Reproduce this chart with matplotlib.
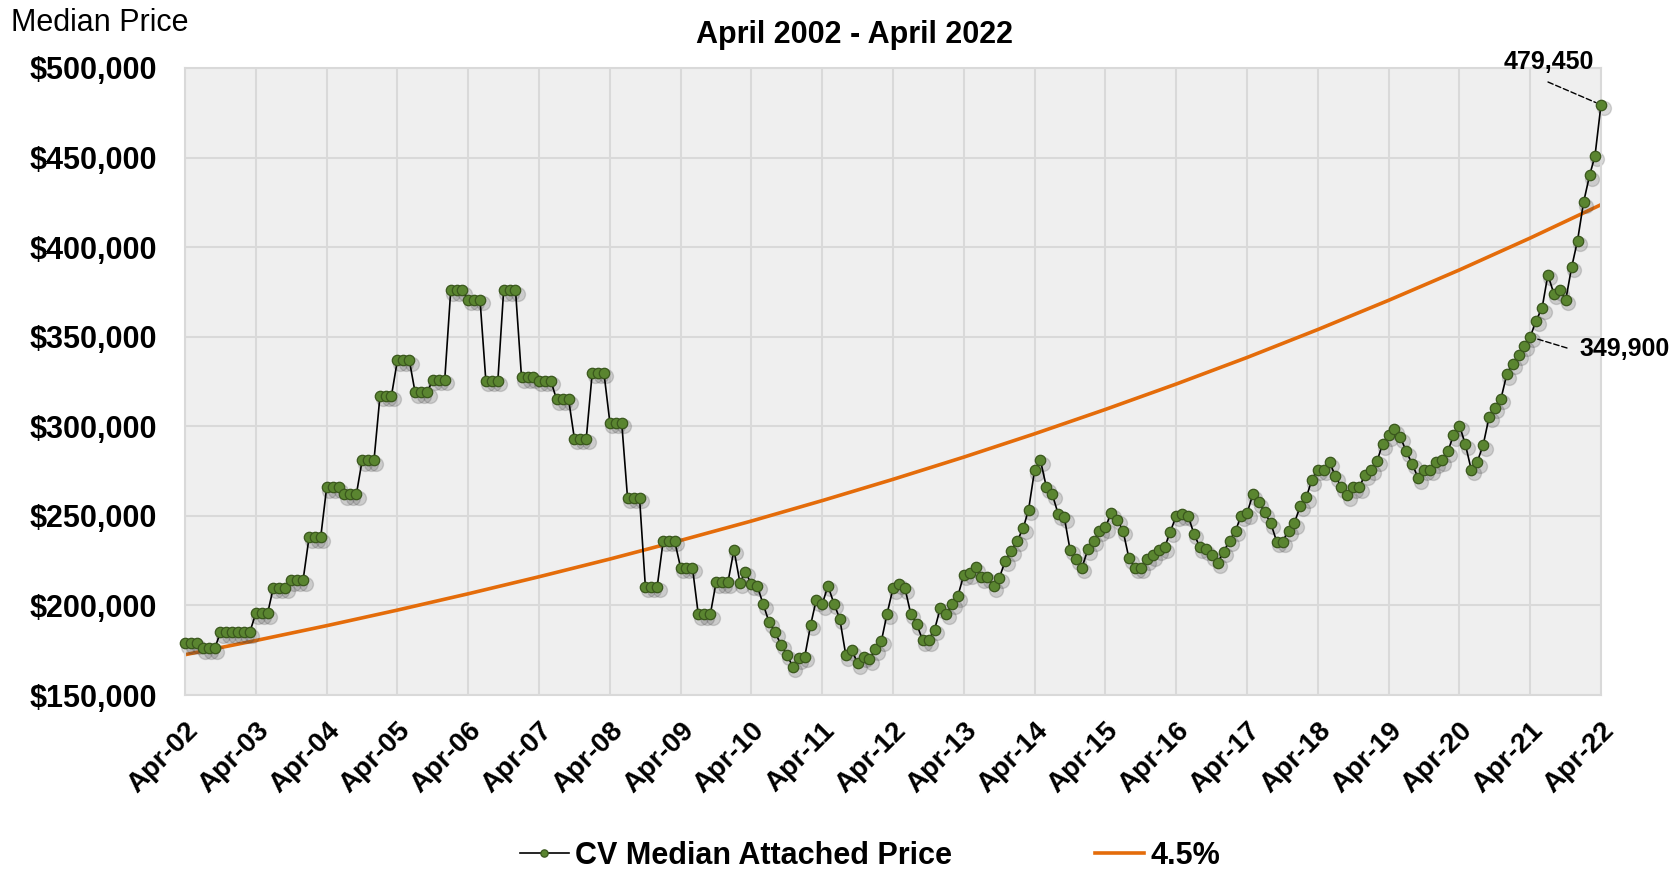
import matplotlib.pyplot as plt
import matplotlib.transforms as mtransforms
from matplotlib.ticker import FuncFormatter
import pandas as pd

plt.rcParams['font.family'] = ['Liberation Sans', 'DejaVu Sans']

# monthly median attached price, Apr-02 .. Apr-22
months = pd.date_range('2002-04-01', '2022-04-01', freq='MS')
median_price = [
    179000, 179000, 179000, 176000, 176000, 176000, 185000, 185000, 185000, 185000, 185000, 185000,
    195500, 195500, 195500, 210000, 210000, 210000, 214000, 214000, 214000, 238000, 238000, 238000,
    266000, 266000, 266000, 262000, 262000, 262000, 281000, 281000, 281000, 317000, 317000, 317000,
    337000, 337000, 337000, 319000, 319000, 319000, 326000, 326000, 326000, 376000, 376000, 376000,
    370500, 370500, 370500, 325500, 325500, 325500, 376000, 376000, 376000, 327500, 327500, 327500,
    325500, 325500, 325500, 315000, 315000, 315000, 293000, 293000, 293000, 330000, 330000, 330000,
    302000, 302000, 302000, 260000, 260000, 260000, 210500, 210500, 210500, 236000, 236000, 236000,
    221000, 221000, 221000, 195000, 195000, 195000, 213000, 213000, 213000, 231000, 212700, 218700,
    211800, 210900, 200600, 190700, 185000, 178000, 172500, 165700, 170600, 171300, 189300, 202800,
    200600, 210900, 201000, 192500, 172300, 175000, 167800, 171300, 170000, 175600, 180300, 195400,
    209700, 212200, 209700, 195400, 189400, 180500, 180500, 186500, 198700, 195400, 201000, 205200,
    217200, 218000, 221300, 215700, 215700, 210700, 215400, 225000, 230600, 236000, 243000, 253500,
    275500, 281000, 266000, 262000, 251000, 249300, 231000, 225700, 221000, 231300, 236000, 241800,
    243600, 251500, 247800, 241800, 226200, 221000, 221000, 225700, 228000, 231000, 232400, 241200,
    250000, 251000, 250000, 240000, 232400, 231300, 228000, 223800, 230000, 236000, 241800, 250000,
    251500, 262000, 257500, 251900, 246000, 235600, 235600, 241800, 246000, 255600, 260500, 270000,
    275800, 275600, 280000, 272000, 266000, 261600, 266000, 266000, 273000, 275600, 280700, 290000,
    295000, 298400, 294000, 286000, 279000, 271000, 275600, 275600, 280000, 281000, 286000, 295000,
    300400, 290000, 275600, 280000, 289500, 305300, 310400, 315400, 329000, 335000, 340000, 345000,
    349900, 359000, 366000, 384500, 374000, 376000, 370500, 389000, 403700, 425000, 440000, 451000,
    479450,
]

# 4.5% trend line, read at each April
trend_years = pd.date_range('2002-04-01', '2022-04-01', freq='12MS')
trend_45 = [172500, 180400, 188700, 197400, 206500, 216000, 225900, 236300, 247100, 258500, 270400,
            282800, 295800, 309400, 323600, 338400, 354000, 370300, 387300, 405100, 423700]
tick_labels = [d.strftime('%b-%y') for d in trend_years]

W, H = 1679, 871
fig = plt.figure(figsize=(W / 100, H / 100), dpi=100)
ax = fig.add_axes([185 / W, 1 - 695 / H, (1601 - 185) / W, (695 - 68) / H])
ax.set_facecolor('#EFEFEF')
ax.grid(True, color='#D9D9D9', lw=1.5)
ax.set_axisbelow(True)
for s in ax.spines.values():
    s.set_color('#D9D9D9')
    s.set_linewidth(1.5)

# orange trend
trend_line, = ax.plot(trend_years, trend_45, color='#E46C0A', lw=2.6, zorder=2, label='4.5%')

# soft shadow under the markers
shadow = mtransforms.offset_copy(ax.transData, fig=fig, x=2.5, y=-3.5, units='dots')
ax.plot(months, median_price, ls='none', marker='o', ms=10, color='#444444', alpha=0.2,
        transform=shadow, zorder=2.5, clip_on=False)
price_line, = ax.plot(months, median_price, color='black', lw=1.2, marker='o', ms=7.5,
                      mfc='#5A8530', mec='#3A571D', mew=0.9, zorder=3, clip_on=False,
                      label='CV Median Attached Price')

ax.set_xlim(months[0], months[-1])
ax.set_ylim(150000, 500000)
ax.set_yticks(range(150000, 500001, 50000))
ax.yaxis.set_major_formatter(FuncFormatter(lambda v, p: '${:,.0f}'.format(v)))
ax.set_xticks(trend_years)
ax.set_xticklabels(tick_labels)
ax.tick_params(axis='y', length=0, pad=20, labelsize=22)
ax.tick_params(axis='x', length=0, pad=16, labelsize=20)
for lab in ax.get_yticklabels():
    lab.set_fontweight('bold')
for lab in ax.get_xticklabels():
    lab.set_fontweight('bold')
    lab.set_rotation(45)
    lab.set_ha('right')
    lab.set_va('top')
    lab.set_rotation_mode('anchor')

# titles
fig.text(11 / W, 1 - 23 / H, 'Median Price', fontsize=22, ha='left', va='center')
fig.text(855 / W, 1 - 35 / H, 'April 2002 - April 2022', fontsize=22, fontweight='bold',
         ha='center', va='center')

# callouts
dash = dict(arrowstyle='-', ls=(0, (4, 2)), color='black', lw=1, shrinkA=0, shrinkB=4)
ax.annotate('', xy=(months[-1], median_price[-1]), xytext=(1548 / W, 1 - 82 / H),
            textcoords='figure fraction', arrowprops=dash)
fig.text(1549 / W, 1 - 62 / H, '{:,}'.format(median_price[-1]), fontsize=18, fontweight='bold',
         ha='center', va='center')
ax.annotate('', xy=(months[228], median_price[228]), xytext=(1567 / W, 1 - 348 / H),
            textcoords='figure fraction', arrowprops=dash)
fig.text(1579 / W, 1 - 349 / H, '{:,}'.format(median_price[228]), fontsize=18, fontweight='bold',
         ha='left', va='center')

fig.legend(handles=[price_line, trend_line], loc='center', bbox_to_anchor=(870 / W, 1 - 856 / H),
           ncol=2, frameon=False, columnspacing=4.7, handlelength=1.6, handletextpad=0.2,
           prop={'size': 22, 'weight': 'bold'}, markerscale=0.7)

fig.savefig('out.png', dpi=100)
